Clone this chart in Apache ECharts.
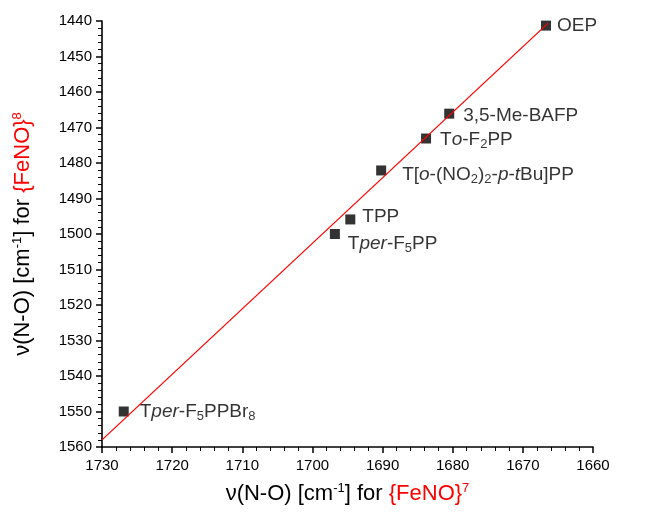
<!DOCTYPE html>
<html>
<head>
<meta charset="utf-8">
<script src="https://cdn.jsdelivr.net/npm/echarts@6/dist/echarts.min.js"></script>
<style>
  html, body { margin: 0; padding: 0; background: #fff; }
  #chart { width: 650px; height: 517px; }
</style>
</head>
<body>
<div id="chart"></div>
<script>
// complexes, nu(N-O) of {FeNO}7 (x) and {FeNO}8 (y)
const names = ['OEP', '3,5-Me-BAFP', 'To-F2PP', 'T[o-(NO2)2-p-tBu]PP', 'TPP', 'Tper-F5PP', 'Tper-F5PPBr8']
const labels = [
  'OEP',
  '3,5-Me-BAFP',
  'T{i|o}-F{s|2}PP',
  'T[{i|o}-(NO{s|2}){s|2}-{i|p}-{i|t}Bu]PP',
  'TPP',
  'T{i|per}-F{s|5}PP',
  'T{i|per}-F{s|5}PPBr{s|8}'
]
const nuFeNO7 = [1666.7, 1680.5, 1683.8, 1690.2, 1694.6, 1696.8, 1726.9]
const nuFeNO8 = [1441.3, 1466.1, 1473.1, 1482.1, 1495.9, 1500.0, 1550.0]

// linear fit line, end points
const fitX = [1730, 1666.4]
const fitY = [1558.0, 1440.6]

const xTicks = [1660, 1730, 10]
const yTicks = [1440, 1560, 10]

// label placement per point
const labelOffset = {
  'OEP': [1, 0],
  '3,5-Me-BAFP': [4, 2],
  'To-F2PP': [4, 1],
  'T[o-(NO2)2-p-tBu]PP': [11, 4],
  'TPP': [2, -3],
  'Tper-F5PP': [3, 10],
  'Tper-F5PPBr8': [6, 0]
}

const FONT = 'Liberation Sans'

const richLabel = {
  i: { fontStyle: 'italic', fontSize: 19, lineHeight: 22, color: '#000', fontFamily: FONT },
  s: { fontSize: 13, color: '#000', verticalAlign: 'bottom', lineHeight: 6, fontFamily: FONT }
}

const richName = {
  k: { color: '#000', fontSize: 22, fontFamily: FONT },
  ks: { color: '#000', fontSize: 13, verticalAlign: 'top', lineHeight: 24, fontFamily: FONT },
  rs: { color: '#ff0000', fontSize: 13, verticalAlign: 'top', lineHeight: 24, fontFamily: FONT }
}

const points = names.map((n, k) => ({
  name: n,
  value: [nuFeNO7[k], nuFeNO8[k]],
  label: { formatter: labels[k], offset: labelOffset[n] }
}))

const axisCommon = {
  axisLine: { lineStyle: { color: '#000', width: 1.6 } },
  axisTick: { inside: false, length: 6, lineStyle: { color: '#000', width: 1.5 } },
  minorTick: { show: true, splitNumber: 5, length: 4, lineStyle: { color: '#000', width: 1 } },
  splitLine: { show: false },
  axisLabel: { color: '#000', fontSize: 15, fontFamily: FONT, formatter: v => String(v) }
}

const chart = echarts.init(document.getElementById('chart'))
chart.setOption({
  animation: false,
  backgroundColor: '#fff',
  grid: { left: 102, right: 57, top: 21, bottom: 70 },
  xAxis: Object.assign({}, axisCommon, {
    type: 'value',
    inverse: true,
    min: xTicks[0], max: xTicks[1], interval: xTicks[2],
    name: '{k|ν(N-O) [cm}{ks|-1}{k|] for }{FeNO}{rs|7}',
    nameLocation: 'middle',
    nameGap: 35,
    nameTextStyle: { color: '#ff0000', fontSize: 22, fontFamily: FONT, rich: richName },
    axisLabel: Object.assign({}, axisCommon.axisLabel, { margin: 11 })
  }),
  yAxis: Object.assign({}, axisCommon, {
    type: 'value',
    inverse: true,
    min: yTicks[0], max: yTicks[1], interval: yTicks[2],
    name: '{k|ν(N-O) [cm}{ks|-1}{k|] for }{FeNO}{rs|8}',
    nameLocation: 'middle',
    nameGap: 67,
    nameRotate: 90,
    nameTextStyle: { color: '#ff0000', fontSize: 22, fontFamily: FONT, rich: richName },
    axisLabel: Object.assign({}, axisCommon.axisLabel, { margin: 10 })
  }),
  series: [
    {
      type: 'line',
      data: fitX.map((x, k) => [x, fitY[k]]),
      showSymbol: false,
      symbol: 'none',
      lineStyle: { color: '#ff0000', width: 1.3 },
      z: 3
    },
    {
      type: 'scatter',
      data: points,
      symbol: 'rect',
      symbolSize: 10,
      itemStyle: { color: '#000' },
      label: {
        show: true,
        position: 'right',
        color: '#000',
        fontSize: 19,
        lineHeight: 22,
        fontFamily: FONT,
        rich: richLabel
      },
      z: 2
    }
  ]
})
</script>
</body>
</html>
